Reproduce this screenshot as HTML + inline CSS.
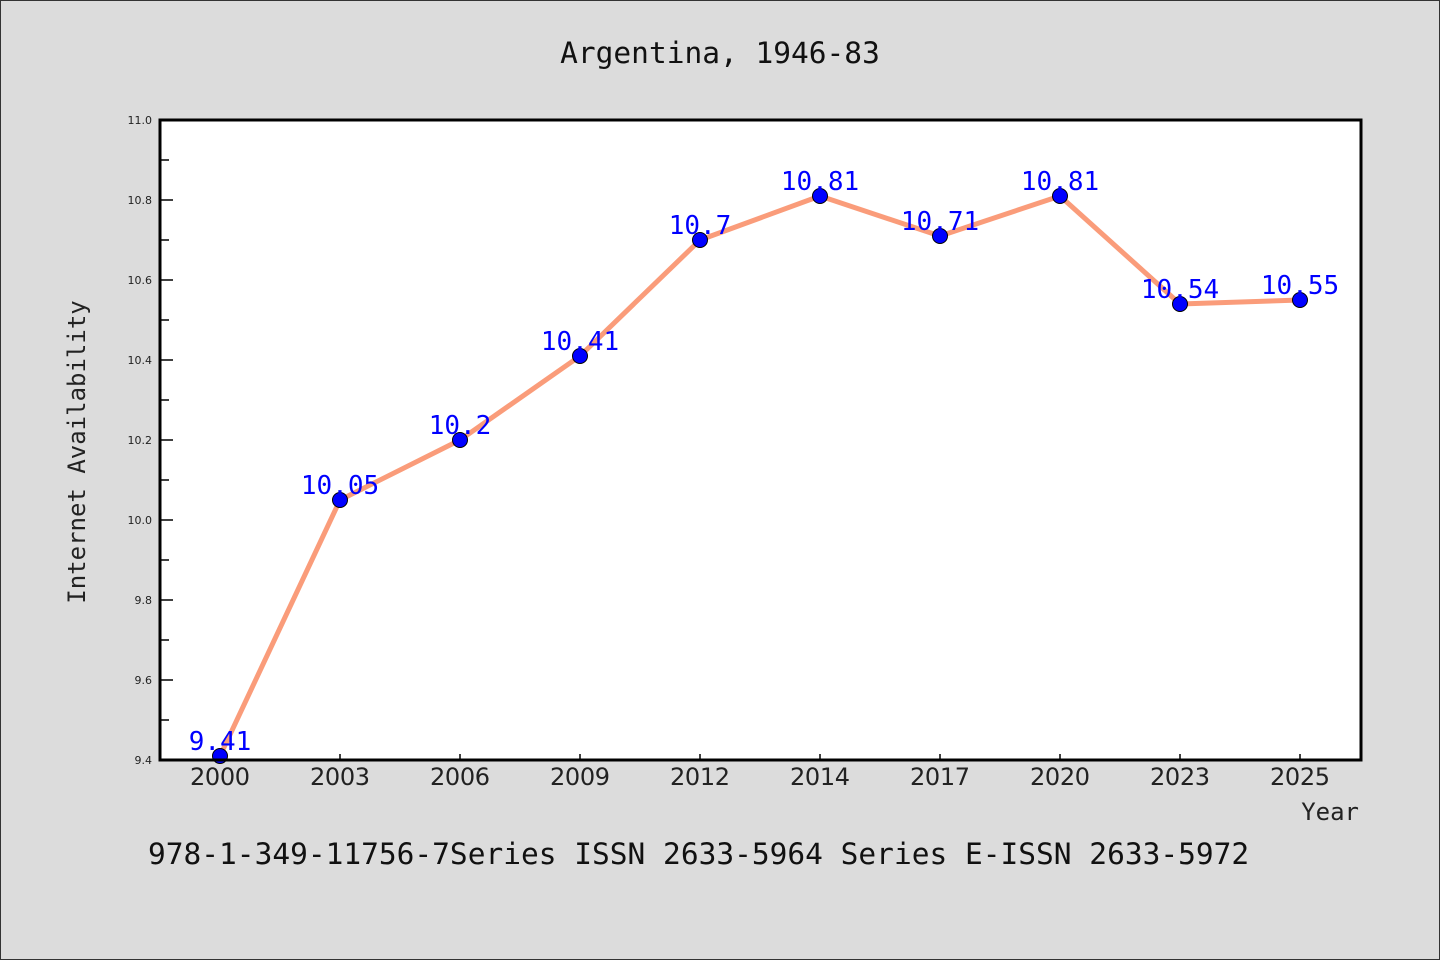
<!DOCTYPE html>
<html><head><meta charset="utf-8"><style>
body{margin:0;background:#dcdcdc;}
svg{display:block;font-family:"DejaVu Sans Mono","Liberation Mono",monospace;}
</style></head><body>
<svg id="chart" width="1440" height="960">
<rect x="0.5" y="0.5" width="1439" height="959" fill="#dcdcdc" stroke="#333"/>
<text x="720" y="63" text-anchor="middle" font-size="29.5" fill="#111">Argentina, 1946-83</text>
<rect x="160" y="120" width="1201" height="640" fill="#fff"/>
<g id="axes"></g>
<g id="marks"></g>
<rect x="160" y="120" width="1201" height="640" fill="none" stroke="#000" stroke-width="3"/>
<text transform="translate(85,452) rotate(-90)" text-anchor="middle" font-size="24" fill="#222">Internet Availability</text>
<text x="1359" y="820" text-anchor="end" font-size="24" fill="#222">Year</text>
<text x="148" y="864" font-size="29.5" fill="#111">978-1-349-11756-7Series ISSN 2633-5964 Series E-ISSN 2633-5972</text>
</svg>
<script>
const categories=["2000","2003","2006","2009","2012","2014","2017","2020","2023","2025"];
const values=[9.41,10.05,10.2,10.41,10.7,10.81,10.71,10.81,10.54,10.55];
const valueLabels=["9.41","10.05","10.2","10.41","10.7","10.81","10.71","10.81","10.54","10.55"];
const yTicks=[9.4,9.6,9.8,10.0,10.2,10.4,10.6,10.8,11.0];
const yMinorTicks=[9.5,9.7,9.9,10.1,10.3,10.5,10.7,10.9];
const NS="http://www.w3.org/2000/svg";
const L=160,R=1361,T=120,B=760,yMin=9.4,yMax=11.0;
const x=i=>220+i*(R-L-121)/(categories.length-1);
const y=v=>B-(v-yMin)/(yMax-yMin)*(B-T);
function mk(tag,attrs,parent){const e=document.createElementNS(NS,tag);for(const k in attrs)e.setAttribute(k,attrs[k]);parent.appendChild(e);return e;}
const axes=document.getElementById('axes'),marks=document.getElementById('marks');
yTicks.forEach(v=>{
  const t=mk('line',{x1:L,x2:L+13,y1:y(v),y2:y(v),stroke:'#000','stroke-width':1.5},axes);
  
  
  const lb=mk('text',{x:L-8,y:y(v)+4,'text-anchor':'end','font-size':11,fill:'#222','font-family':'DejaVu Sans, sans-serif'},axes);
  lb.textContent=v.toFixed(1);
  
  
});
yMinorTicks.forEach(v=>{
  const t=mk('line',{x1:L,x2:L+9,y1:y(v),y2:y(v),stroke:'#000','stroke-width':1.5},axes);
  
  
});
categories.forEach((c,i)=>{
  const t=mk('line',{x1:x(i),x2:x(i),y1:B,y2:B-6,stroke:'#000','stroke-width':1.5},axes);
  
  
  const lb=mk('text',{x:x(i),y:B+25,'text-anchor':'middle','font-size':24,fill:'#222','font-family':'DejaVu Sans, sans-serif','textLength':60},axes);
  lb.textContent=c;
  
  
});
const line=mk('polyline',{points:values.map((v,i)=>x(i)+','+y(v)).join(' '),fill:'none',stroke:'#fa9c7a','stroke-width':5,'stroke-linejoin':'round'},marks);


values.forEach((v,i)=>{
  const p=mk('circle',{cx:x(i),cy:y(v),r:7.5,fill:'#0000ff',stroke:'#000','stroke-width':1},marks);
  
  
  const lb=mk('text',{x:x(i),y:y(v)-6,'text-anchor':'middle','font-size':26,fill:'#0000ff'},marks);
  lb.textContent=valueLabels[i];
  
  
});
</script>
</body></html>
